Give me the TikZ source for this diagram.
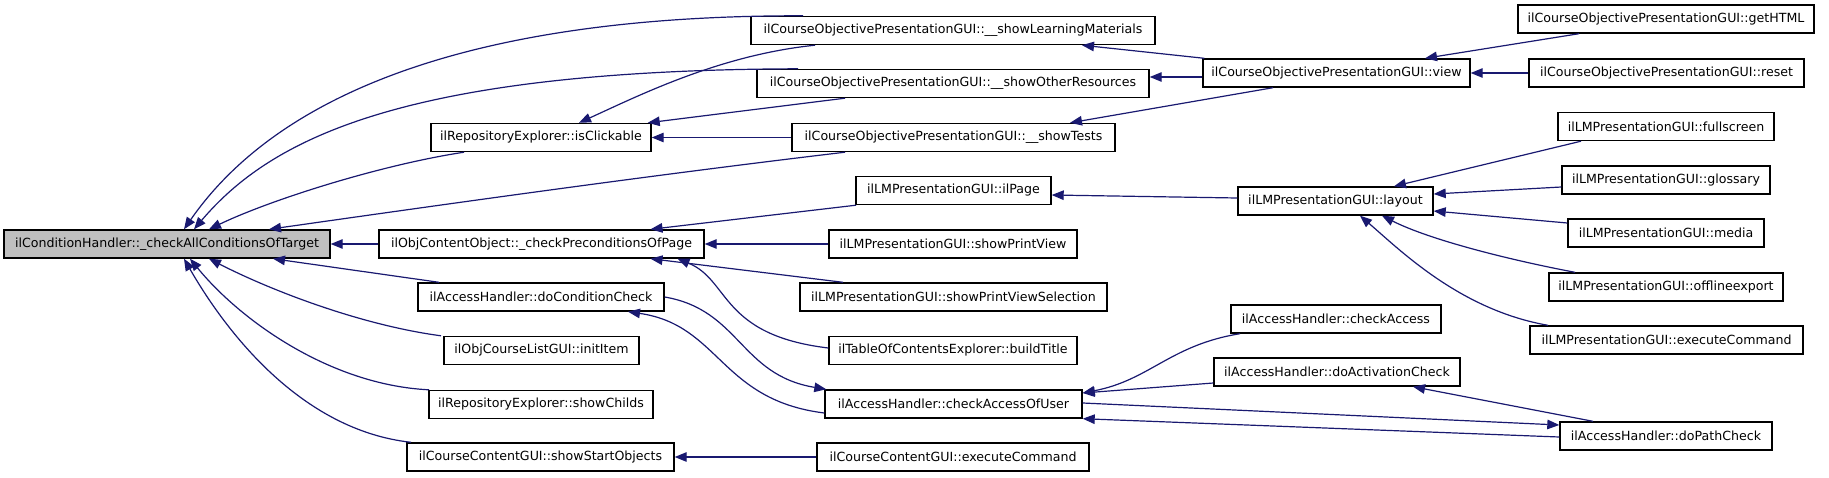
\documentclass[tikz,border=0pt]{standalone}
\usepackage{fontspec}
\setmainfont{DejaVu Sans}
\usetikzlibrary{arrows.meta}
\definecolor{navy}{HTML}{191970}
\definecolor{rootgray}{HTML}{BFBFBF}
\tikzset{
  box/.style={draw=black, line width=1.4pt, minimum height=28pt, inner sep=0pt, fill=white,
    font=\fontsize{12.6pt}{15pt}\selectfont},
  edge/.style={draw=navy, line width=1.2pt, arrows={Triangle[length=12pt,width=9.5pt]-}}
}
\begin{document}
\begin{tikzpicture}[x=1pt,y=-1pt]
\useasboundingbox (0,0) rectangle (1829,477);
% column 1
\node[box, fill=rootgray, minimum width=326pt] (cond) at (167,244) {ilConditionHandler::\_checkAllConditionsOfTarget};
% column 2
\node[box, minimum width=325pt] (prec) at (541.5,244) {ilObjContentObject::\_checkPreconditionsOfPage};
\node[box, minimum width=220pt] (click) at (541,137.5) {ilRepositoryExplorer::isClickable};
\node[box, minimum width=246pt] (dcc) at (541,297) {ilAccessHandler::doConditionCheck};
\node[box, minimum width=195pt] (init) at (541.5,350.5) {ilObjCourseListGUI::initItem};
\node[box, minimum width=224pt] (childs) at (541,404.5) {ilRepositoryExplorer::showChilds};
\node[box, minimum width=267pt] (sso) at (540.5,457) {ilCourseContentGUI::showStartObjects};
% column 3
\node[box, minimum width=404pt] (slm) at (953,30.5) {ilCourseObjectivePresentationGUI::\_\_showLearningMaterials};
\node[box, minimum width=392pt] (sor) at (953,83.5) {ilCourseObjectivePresentationGUI::\_\_showOtherResources};
\node[box, minimum width=323pt] (stests) at (953.5,137.5) {ilCourseObjectivePresentationGUI::\_\_showTests};
\node[box, minimum width=195pt] (ilpage) at (953.5,190.5) {ilLMPresentationGUI::ilPage};
\node[box, minimum width=248pt] (spv) at (953,244) {ilLMPresentationGUI::showPrintView};
\node[box, minimum width=307pt] (spvs) at (953.5,297) {ilLMPresentationGUI::showPrintViewSelection};
\node[box, minimum width=248pt] (build) at (953,350.5) {ilTableOfContentsExplorer::buildTitle};
\node[box, minimum width=257pt] (cau) at (953.5,404) {ilAccessHandler::checkAccessOfUser};
\node[box, minimum width=272pt] (cce) at (953,457) {ilCourseContentGUI::executeCommand};
% column 4
\node[box, minimum width=267pt] (view) at (1336.5,73) {ilCourseObjectivePresentationGUI::view};
\node[box, minimum width=195pt] (layout) at (1335.5,201) {ilLMPresentationGUI::layout};
\node[box, minimum width=210pt] (chk) at (1336,319) {ilAccessHandler::checkAccess};
\node[box, minimum width=246pt] (dac) at (1337,372) {ilAccessHandler::doActivationCheck};
% column 5
\node[box, minimum width=296pt] (gethtml) at (1666,19) {ilCourseObjectivePresentationGUI::getHTML};
\node[box, minimum width=275pt] (reset) at (1666.5,73) {ilCourseObjectivePresentationGUI::reset};
\node[box, minimum width=216pt] (full) at (1666,126.5) {ilLMPresentationGUI::fullscreen};
\node[box, minimum width=208pt] (gloss) at (1666,180) {ilLMPresentationGUI::glossary};
\node[box, minimum width=196pt] (media) at (1666,233) {ilLMPresentationGUI::media};
\node[box, minimum width=234pt] (offl) at (1666,287) {ilLMPresentationGUI::offlineexport};
\node[box, minimum width=273pt] (lmexec) at (1666.5,340) {ilLMPresentationGUI::executeCommand};
\node[box, minimum width=212pt] (dpc) at (1666,436) {ilAccessHandler::doPathCheck};
% edges into cond
\draw[edge] ([xshift=17pt]cond.north) .. controls (260,120) and (420,15) .. ([xshift=-150pt]slm.north);
\draw[edge] ([xshift=27pt]cond.north) .. controls (270,140) and (400,70) .. ([xshift=-155pt]sor.north);
\draw[edge] ([xshift=42pt]cond.north) .. controls (270,200) and (380,165) .. ([xshift=-77pt]click.south);
\draw[edge] ([xshift=102pt]cond.north) .. controls (461,202) and (653,175) .. ([xshift=-108.5pt]stests.south);
\draw[edge] (cond.east) -- (prec.west);
\draw[edge] ([xshift=106pt]cond.south) -- ([xshift=-102pt]dcc.north);
\draw[edge] ([xshift=42pt]cond.south) .. controls (270,290) and (360,325) .. ([xshift=-100.5pt]init.north);
\draw[edge] ([xshift=23pt]cond.south) .. controls (240,320) and (330,385) .. ([xshift=-112pt]childs.north);
\draw[edge] ([xshift=17pt]cond.south) .. controls (225,330) and (300,430) .. ([xshift=-129.5pt]sso.north);
% edges into column 2 nodes
\draw[edge] ([xshift=38pt]click.north) .. controls (640,95) and (720,55) .. ([xshift=-138pt]slm.south);
\draw[edge] ([xshift=-4pt]click.north east) -- ([xshift=-108pt]sor.south);
\draw[edge] (click.east) -- (stests.west);
\draw[edge] ([xshift=109pt]prec.north) -- ([xshift=-97.5pt]ilpage.south);
\draw[edge] (prec.east) -- (spv.west);
\draw[edge] ([xshift=109pt]prec.south) -- ([xshift=-110.5pt]spvs.north);
\draw[edge] ([xshift=136pt]prec.south) .. controls (730,280) and (720,335) .. ([yshift=2.5pt]build.west);
\draw[edge] ([xshift=87pt]dcc.south) .. controls (720,325) and (720,400) .. ([yshift=-9pt]cau.west);
\draw[edge] ([xshift=2pt]cau.north west) .. controls (740,375) and (740,310) .. (dcc.east);
\draw[edge] (sso.east) -- (cce.west);
% edges into column 3 nodes
\draw[edge] ([xshift=129pt]slm.south) -- ([xshift=2pt]view.north west);
\draw[edge] ([yshift=6.5pt]sor.east) -- ([yshift=-4pt]view.west);
\draw[edge] ([xshift=116.5pt]stests.north) -- ([xshift=-63.5pt]view.south);
\draw[edge] ([yshift=-4.5pt]ilpage.east) -- ([yshift=3pt]layout.west);
\draw[edge] ([yshift=11pt]cau.east) .. controls (1150,380) and (1170,345) .. ([xshift=-96pt]chk.south);
\draw[edge] ([yshift=11pt]cau.east) -- ([yshift=-11pt]dac.west);
\draw[edge] (cau.south east) -- ([yshift=-1pt]dpc.west);
% edges into column 4 nodes
\draw[edge] ([xshift=88.5pt]view.north) -- ([xshift=-87pt]gethtml.south);
\draw[edge] (view.east) -- (reset.west);
\draw[edge] ([xshift=58.5pt]layout.north) -- ([xshift=-85pt]full.south);
\draw[edge] ([yshift=7pt]layout.east) -- ([yshift=-7pt]gloss.west);
\draw[edge] ([yshift=-10pt]layout.east) -- ([yshift=10pt]media.west);
\draw[edge] ([xshift=46.5pt]layout.south) .. controls (1430,240) and (1510,260) .. ([xshift=-91pt]offl.north);
\draw[edge] ([xshift=24.5pt]layout.south) .. controls (1400,250) and (1460,310) .. ([xshift=-118.5pt]lmexec.north);
\draw[edge] ([xshift=76pt]dac.south) -- ([xshift=-73pt]dpc.north);
\draw[edge] ([yshift=11pt]dpc.west) -- ([yshift=1pt]cau.east);
\end{tikzpicture}
\end{document}
